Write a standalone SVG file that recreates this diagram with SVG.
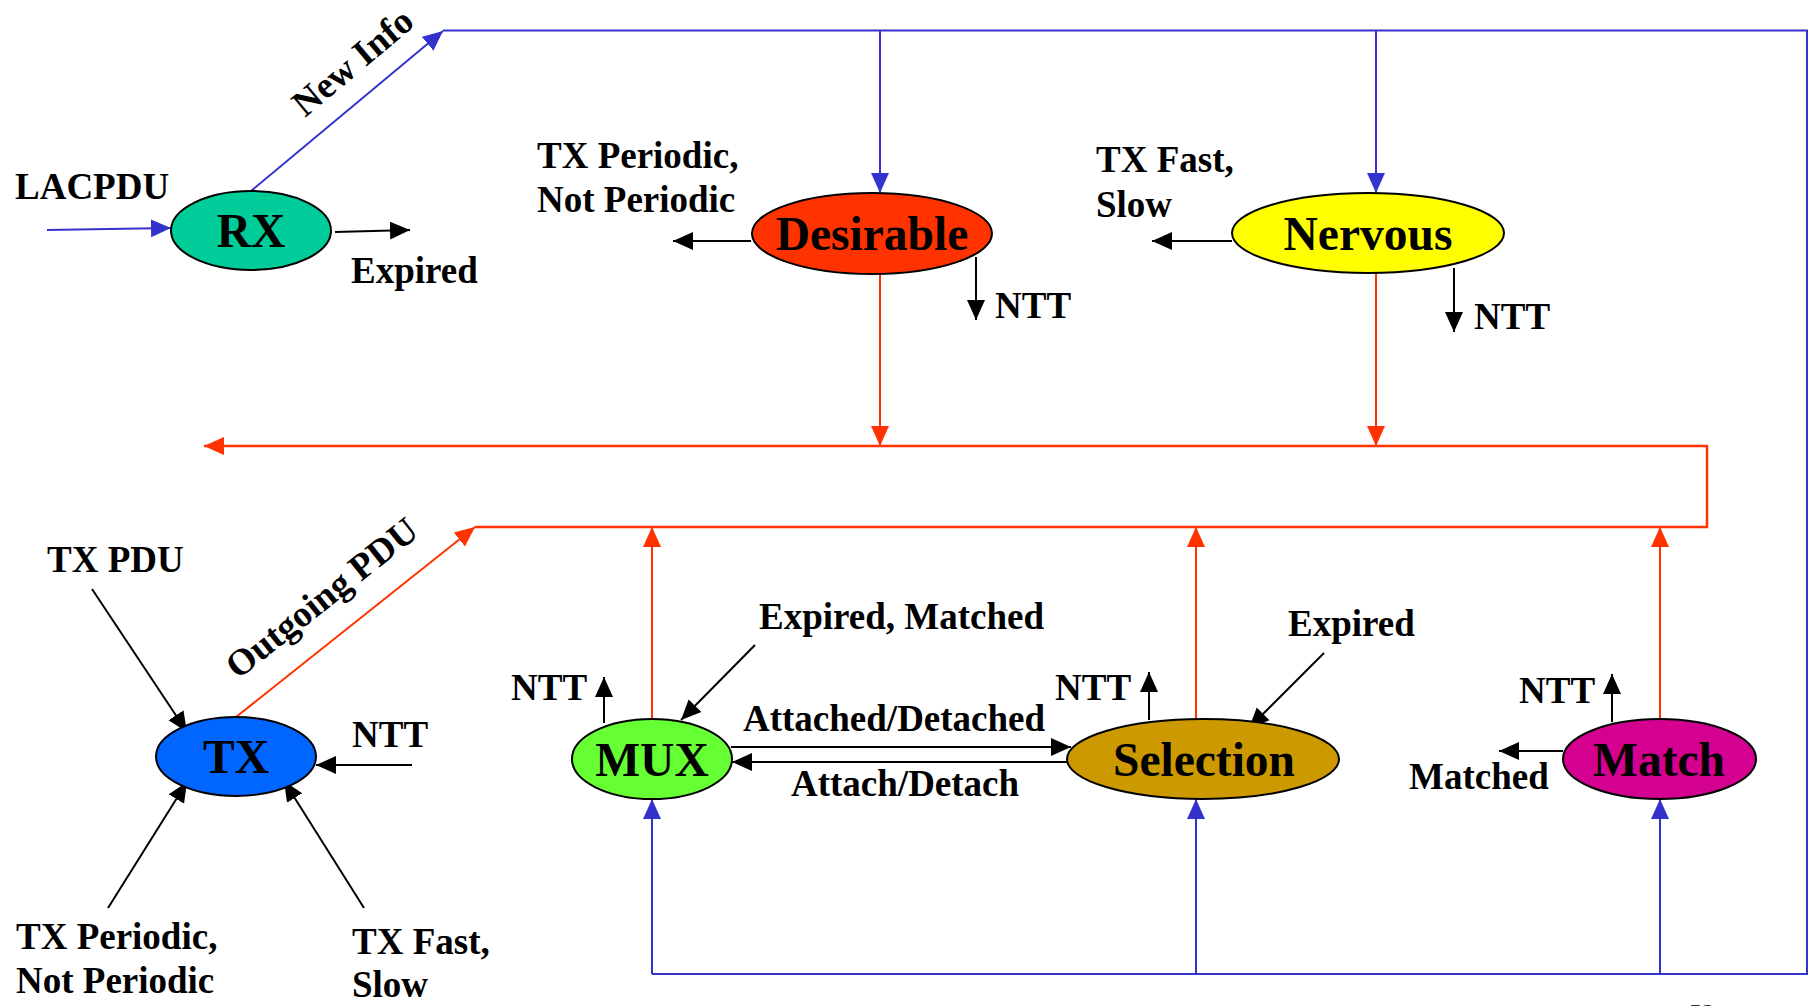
<svg xmlns="http://www.w3.org/2000/svg" width="1815" height="1006" viewBox="0 0 1815 1006">
  <style>
    text { font-family: "Liberation Serif", "Times New Roman", serif; font-weight: bold; fill: #000; }
    .lbl { font-size: 37px; }
    .node-text { font-size: 47.5px; text-anchor: middle; }
    .node { stroke: #000; stroke-width: 2; }
    .blue { stroke: #3333CC; stroke-width: 2; fill: none; }
    .red { stroke: #FF3300; stroke-width: 2; fill: none; }
    .redbus { stroke: #FF3300; stroke-width: 2.5; fill: none; }
    .black { stroke: #000; stroke-width: 2; fill: none; }
    .page { font-size: 26px; font-weight: normal; fill: #333; }
  </style>
  <defs>
    <marker id="ah-blue" viewBox="0 0 20 20" markerWidth="20" markerHeight="20" markerUnits="userSpaceOnUse" refX="20" refY="10" orient="auto">
      <path d="M0,1 L20,10 L0,19 z" fill="#3333CC"/>
    </marker>
    <marker id="ah-red" viewBox="0 0 20 20" markerWidth="20" markerHeight="20" markerUnits="userSpaceOnUse" refX="20" refY="10" orient="auto">
      <path d="M0,1 L20,10 L0,19 z" fill="#FF3300"/>
    </marker>
    <marker id="ah-black" viewBox="0 0 20 20" markerWidth="20" markerHeight="20" markerUnits="userSpaceOnUse" refX="20" refY="10" orient="auto">
      <path d="M0,1 L20,10 L0,19 z" fill="#000"/>
    </marker>
  </defs>

  <rect width="1815" height="1006" fill="#fff"/>

  <g id="connectors">
    <!-- received information path (blue) -->
    <path class="blue" d="M47,230 L171,228" marker-end="url(#ah-blue)"/>
    <path class="blue" d="M251,191 L443,31" marker-end="url(#ah-blue)"/>
    <path class="blue" d="M443,30.5 L1807,30.5 L1807,974 L652,974"/>
    <path class="blue" d="M880,31 L880,193" marker-end="url(#ah-blue)"/>
    <path class="blue" d="M1376,31 L1376,193" marker-end="url(#ah-blue)"/>
    <path class="blue" d="M652,974 L652,799" marker-end="url(#ah-blue)"/>
    <path class="blue" d="M1196,974 L1196,799" marker-end="url(#ah-blue)"/>
    <path class="blue" d="M1660,974 L1660,799" marker-end="url(#ah-blue)"/>

    <!-- state information bus (red) -->
    <path class="red" d="M880,274 L880,446" marker-end="url(#ah-red)"/>
    <path class="red" d="M1376,273 L1376,446" marker-end="url(#ah-red)"/>
    <path class="redbus" d="M475,527 L1707,527 L1707,446 L204,446" marker-end="url(#ah-red)"/>
    <path class="red" d="M236,717 L475,527" marker-end="url(#ah-red)"/>
    <path class="red" d="M652,719 L652,527" marker-end="url(#ah-red)"/>
    <path class="red" d="M1196,719 L1196,527" marker-end="url(#ah-red)"/>
    <path class="red" d="M1660,719 L1660,527" marker-end="url(#ah-red)"/>

    <!-- signals (black) -->
    <path class="black" d="M335,232 L410,230" marker-end="url(#ah-black)"/>
    <path class="black" d="M751,241 L673,241" marker-end="url(#ah-black)"/>
    <path class="black" d="M976,257 L976,320" marker-end="url(#ah-black)"/>
    <path class="black" d="M1232,241 L1152,241" marker-end="url(#ah-black)"/>
    <path class="black" d="M1454,268 L1454,332" marker-end="url(#ah-black)"/>
    <path class="black" d="M92,589 L187,732" marker-end="url(#ah-black)"/>
    <path class="black" d="M412,765 L316,765" marker-end="url(#ah-black)"/>
    <path class="black" d="M108,908 L187,782" marker-end="url(#ah-black)"/>
    <path class="black" d="M364,908 L284,781" marker-end="url(#ah-black)"/>
    <path class="black" d="M604,723 L604,677" marker-end="url(#ah-black)"/>
    <path class="black" d="M755,645 L681,720" marker-end="url(#ah-black)"/>
    <path class="black" d="M731,747 L1071,747" marker-end="url(#ah-black)"/>
    <path class="black" d="M1067,762 L732,762" marker-end="url(#ah-black)"/>
    <path class="black" d="M1149,720 L1149,672" marker-end="url(#ah-black)"/>
    <path class="black" d="M1324,653 L1249,728" marker-end="url(#ah-black)"/>
    <path class="black" d="M1612,722 L1612,674" marker-end="url(#ah-black)"/>
    <path class="black" d="M1563,751 L1499,751" marker-end="url(#ah-black)"/>
  </g>

  <g id="labels">
    <text class="lbl" x="15" y="199">LACPDU</text>
    <text class="lbl" x="351" y="283">Expired</text>
    <text class="lbl" transform="translate(305,118) rotate(-40)">New Info</text>
    <text class="lbl" x="537" y="168">TX Periodic,</text>
    <text class="lbl" x="537" y="212">Not Periodic</text>
    <text class="lbl" x="995" y="318">NTT</text>
    <text class="lbl" x="1096" y="172">TX Fast,</text>
    <text class="lbl" x="1096" y="217">Slow</text>
    <text class="lbl" x="1474" y="329">NTT</text>
    <text class="lbl" x="47" y="572">TX PDU</text>
    <text class="lbl" transform="translate(238,680) rotate(-38.5)">Outgoing PDU</text>
    <text class="lbl" x="352" y="747">NTT</text>
    <text class="lbl" x="16" y="949">TX Periodic,</text>
    <text class="lbl" x="16" y="993">Not Periodic</text>
    <text class="lbl" x="352" y="954">TX Fast,</text>
    <text class="lbl" x="352" y="997">Slow</text>
    <text class="lbl" x="511" y="700">NTT</text>
    <text class="lbl" x="759" y="629">Expired, Matched</text>
    <text class="lbl" x="743" y="731">Attached/Detached</text>
    <text class="lbl" x="791" y="796">Attach/Detach</text>
    <text class="lbl" x="1055" y="700">NTT</text>
    <text class="lbl" x="1288" y="636">Expired</text>
    <text class="lbl" x="1519" y="703">NTT</text>
    <text class="lbl" x="1409" y="789">Matched</text>
    <text class="page" x="1689" y="1022">52</text>
  </g>

  <g id="node-rx">
    <ellipse class="node" cx="251" cy="230.5" rx="80" ry="39.5" fill="#00CC99"/>
    <text class="node-text" x="251" y="247">RX</text>
  </g>
  <g id="node-desirable">
    <ellipse class="node" cx="872" cy="233.5" rx="120" ry="40.5" fill="#FF3300"/>
    <text class="node-text" x="872" y="250">Desirable</text>
  </g>
  <g id="node-nervous">
    <ellipse class="node" cx="1368" cy="233" rx="136" ry="40" fill="#FFFF00"/>
    <text class="node-text" x="1368" y="250">Nervous</text>
  </g>
  <g id="node-tx">
    <ellipse class="node" cx="236" cy="756.5" rx="80" ry="39.5" fill="#0066FF"/>
    <text class="node-text" x="236" y="773">TX</text>
  </g>
  <g id="node-mux">
    <ellipse class="node" cx="652" cy="759" rx="80" ry="40" fill="#66FF33"/>
    <text class="node-text" x="652" y="776">MUX</text>
  </g>
  <g id="node-selection">
    <ellipse class="node" cx="1203" cy="759" rx="136" ry="40" fill="#CC9900"/>
    <text class="node-text" x="1204" y="776">Selection</text>
  </g>
  <g id="node-match">
    <ellipse class="node" cx="1659.5" cy="759" rx="96.5" ry="40" fill="#D4008F"/>
    <text class="node-text" x="1659" y="776">Match</text>
  </g>
</svg>
